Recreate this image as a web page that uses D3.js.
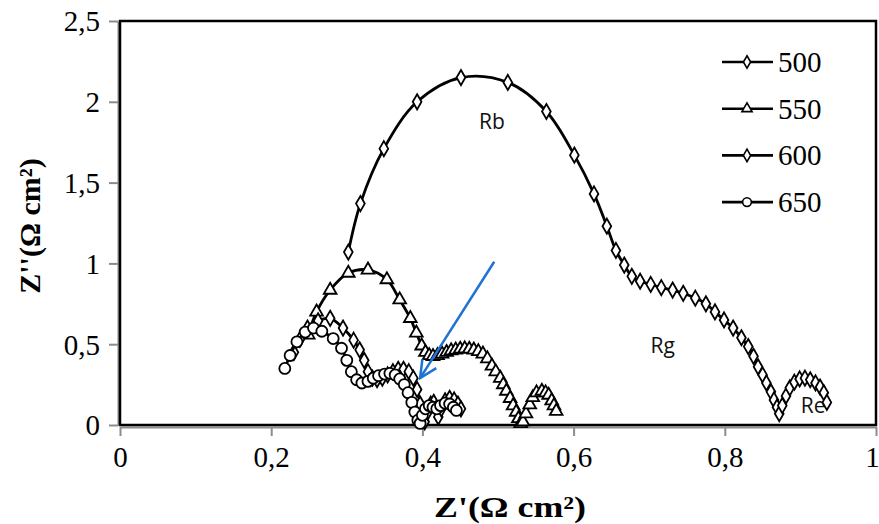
<!DOCTYPE html>
<html><head><meta charset="utf-8">
<script src="https://cdn.jsdelivr.net/npm/d3@7/dist/d3.min.js"></script>
<style>body{margin:0;background:#fff}svg{display:block}</style>
</head><body><svg id="c" width="879" height="524"></svg>
<script>
// ---- data ----
const seriesNames = ["500","550","600","650"];
const s500 = [[0.302,1.07],[0.318,1.37],[0.349,1.71],[0.393,2.00],[0.451,2.15],[0.513,2.12],[0.564,1.94],[0.601,1.67],[0.627,1.43],[0.644,1.23],[0.656,1.08],[0.667,0.99],[0.677,0.92],[0.688,0.89],[0.702,0.87],[0.716,0.85],[0.731,0.835],[0.745,0.815],[0.761,0.785],[0.775,0.75],[0.787,0.70],[0.799,0.65],[0.811,0.60],[0.822,0.54],[0.831,0.485],[0.838,0.425],[0.844,0.36],[0.850,0.31],[0.855,0.26],[0.861,0.205],[0.865,0.155],[0.869,0.11],[0.872,0.07],[0.876,0.12],[0.881,0.18],[0.886,0.23],[0.892,0.265],[0.899,0.285],[0.906,0.29],[0.913,0.28],[0.920,0.26],[0.926,0.235],[0.931,0.2],[0.935,0.14]];
const s550 = [[0.249,0.557],[0.260,0.70],[0.278,0.835],[0.302,0.94],[0.328,0.96],[0.353,0.90],[0.370,0.775],[0.384,0.66],[0.392,0.57],[0.399,0.49],[0.404,0.45],[0.409,0.43],[0.414,0.425],[0.42,0.43],[0.426,0.44],[0.432,0.45],[0.438,0.46],[0.444,0.465],[0.45,0.47],[0.456,0.472],[0.462,0.47],[0.468,0.465],[0.474,0.455],[0.48,0.44],[0.486,0.41],[0.492,0.365],[0.497,0.33],[0.503,0.29],[0.507,0.25],[0.511,0.21],[0.516,0.165],[0.52,0.12],[0.524,0.08],[0.527,0.04],[0.53,0.01],[0.533,0.02],[0.537,0.07],[0.542,0.125],[0.546,0.17],[0.551,0.2],[0.558,0.21],[0.563,0.2],[0.567,0.185],[0.571,0.15],[0.574,0.12],[0.577,0.085]];
const s600 = [[0.23,0.45],[0.238,0.53],[0.248,0.6],[0.262,0.645],[0.278,0.66],[0.295,0.60],[0.309,0.525],[0.317,0.465],[0.323,0.40],[0.328,0.33],[0.334,0.29],[0.34,0.28],[0.347,0.29],[0.354,0.31],[0.361,0.33],[0.368,0.345],[0.375,0.345],[0.382,0.33],[0.388,0.29],[0.393,0.22],[0.397,0.13],[0.40,0.04],[0.403,0.02],[0.407,0.08],[0.411,0.13],[0.415,0.14],[0.418,0.1],[0.421,0.05],[0.425,0.1],[0.43,0.15],[0.436,0.165],[0.442,0.155],[0.447,0.13],[0.451,0.1]];
const s650 = [[0.218,0.35],[0.225,0.43],[0.234,0.515],[0.245,0.575],[0.256,0.60],[0.267,0.58],[0.282,0.535],[0.293,0.475],[0.300,0.40],[0.306,0.33],[0.313,0.28],[0.32,0.26],[0.328,0.27],[0.335,0.29],[0.342,0.305],[0.35,0.315],[0.357,0.32],[0.364,0.31],[0.37,0.285],[0.376,0.25],[0.381,0.2],[0.386,0.14],[0.39,0.08],[0.394,0.03],[0.397,0.01],[0.40,0.06],[0.404,0.1],[0.409,0.12],[0.414,0.11],[0.419,0.1],[0.424,0.12],[0.43,0.135],[0.436,0.13],[0.441,0.11],[0.445,0.09]];
const markerTypes = ["diamond","triangle","diamond","circle"];
const xTicks = [0,0.2,0.4,0.6,0.8,1];
const yTicks = [0,0.5,1,1.5,2,2.5];
const annotations = [{t:"Rb",x:0.492,y:1.83},{t:"Rg",x:0.718,y:0.445},{t:"Re",x:0.917,y:0.075}];
const arrowFrom = [0.495,1.01], arrowTo = [0.397,0.29];

// ---- chart ----
const svg = d3.select("#c");
const L=120,R=876,T=21,B=425;
const x = d3.scaleLinear().domain([0,1]).range([L,R]);
const y = d3.scaleLinear().domain([0,2.5]).range([B,T]);
const fmt = d => String(d).replace(".",",");

// axes
const gx = svg.append("g").attr("transform",`translate(0,${B+2})`)
  .call(d3.axisBottom(x).tickValues(xTicks).tickSize(9).tickSizeOuter(0).tickFormat(fmt));
const gy = svg.append("g").attr("transform",`translate(${L-2},0)`)
  .call(d3.axisLeft(y).tickValues(yTicks).tickSize(9).tickSizeOuter(0).tickFormat(fmt));
[gx,gy].forEach(g=>{
  g.select(".domain").attr("stroke","#8c8c8c").attr("stroke-width",2);
  g.selectAll(".tick line").attr("stroke","#8c8c8c").attr("stroke-width",2);
  g.selectAll("text").attr("font-family","'Liberation Serif','Times New Roman',serif").attr("font-size",29).attr("fill","#000");
});
gx.selectAll("text").attr("y",19).attr("dy","0.71em");
gx.selectAll("text").filter(d=>d===1).attr("x",-4);
gy.selectAll("text").attr("x",-18).attr("dy","0.34em");

// plot frame
svg.append("rect").attr("x",L).attr("y",T).attr("width",R-L).attr("height",B-T)
  .attr("fill","none").attr("stroke","#000").attr("stroke-width",2.5);

// titles
svg.append("text").attr("x",510).attr("y",517).attr("text-anchor","middle")
  .attr("font-family","'Liberation Serif','Times New Roman',serif").attr("font-weight","bold").attr("font-size",30)
  .attr("textLength",152).attr("lengthAdjust","spacingAndGlyphs")
  .text("Z'(Ω cm²)");
svg.append("text").attr("transform","translate(40,226) rotate(-90)").attr("text-anchor","middle")
  .attr("font-family","'Liberation Serif','Times New Roman',serif").attr("font-weight","bold").attr("font-size",30)
  .text("Z''(Ω cm²)");

// series
const line = d3.line().x(d=>x(d[0])).y(d=>y(d[1])).curve(d3.curveCatmullRom.alpha(0.5));
const symbolFor = t => t==="diamond" ? d3.symbol(d3.symbolDiamond,66) : t==="triangle" ? d3.symbol(d3.symbolTriangle,70) : d3.symbol(d3.symbolCircle,95);
const allSeries = [s500,s550,s600,s650];
allSeries.forEach((s,i)=>{
  const g = svg.append("g");
  g.append("path").attr("d",line(s)).attr("fill","none").attr("stroke","#000").attr("stroke-width",2.8);
  g.selectAll("path.m").data(s).join("path").attr("class","m")
    .attr("d",symbolFor(markerTypes[i])())
    .attr("transform",d=>`translate(${x(d[0])},${y(d[1])})`)
    .attr("fill","#fff").attr("stroke","#000").attr("stroke-width",1.8);
});

// annotations
annotations.forEach(a=>{
  svg.append("text").attr("x",x(a.x)).attr("y",y(a.y)).attr("text-anchor","middle")
    .attr("font-family","'Open Sans',sans-serif").attr("font-size",21).attr("fill","#111").text(a.t);
});

// arrow
const ax1=x(arrowFrom[0]), ay1=y(arrowFrom[1]), ax2=x(arrowTo[0]), ay2=y(arrowTo[1]);
svg.append("line").attr("x1",ax1).attr("y1",ay1).attr("x2",ax2).attr("y2",ay2)
  .attr("stroke","#1f73d2").attr("stroke-width",2.5);
const ang = Math.atan2(ay2-ay1, ax2-ax1), hl=19, ha=0.45;
svg.append("path").attr("d",`M${ax2-hl*Math.cos(ang-ha)},${ay2-hl*Math.sin(ang-ha)}L${ax2},${ay2}L${ax2-hl*Math.cos(ang+ha)},${ay2-hl*Math.sin(ang+ha)}`)
  .attr("fill","none").attr("stroke","#1f73d2").attr("stroke-width",2.5);

// legend
const lg = svg.append("g");
seriesNames.forEach((n,i)=>{
  const ly = 62 + i*46.7;
  lg.append("line").attr("x1",722).attr("x2",773).attr("y1",ly).attr("y2",ly).attr("stroke","#000").attr("stroke-width",2.6);
  lg.append("path").attr("d",(markerTypes[i]==="circle"?d3.symbol(d3.symbolCircle,60):d3.symbol(markerTypes[i]==="triangle"?d3.symbolTriangle:d3.symbolDiamond,45))()).attr("transform",`translate(747,${ly})`)
    .attr("fill","#fff").attr("stroke","#000").attr("stroke-width",1.6);
  lg.append("text").attr("x",778).attr("y",ly+10).attr("font-family","'Liberation Serif','Times New Roman',serif")
    .attr("font-size",29).text(n);
});
</script></body></html>
